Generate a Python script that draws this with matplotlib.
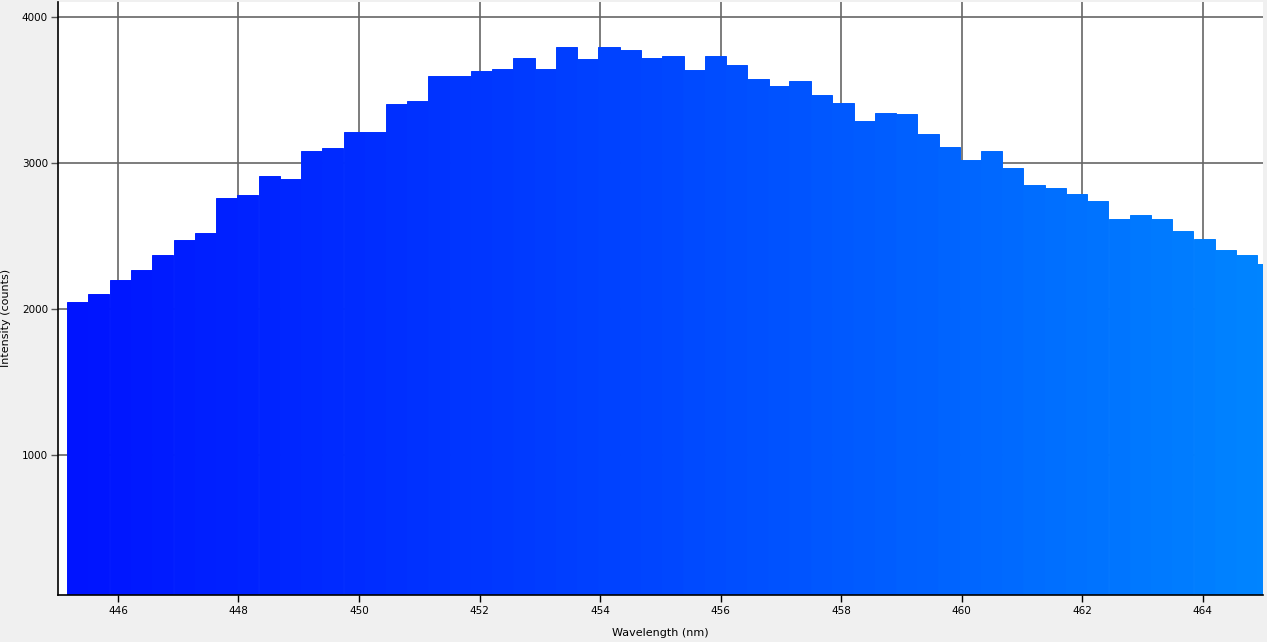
import numpy as np
import matplotlib
matplotlib.use("Agg")
import matplotlib.pyplot as plt
from matplotlib.colors import LinearSegmentedColormap

# bin centres (nm) and counts
wavelength = [445.33, 445.68, 446.04, 446.39, 446.74, 447.10, 447.45, 447.80,
              448.15, 448.51, 448.86, 449.21, 449.56, 449.92, 450.27, 450.62,
              450.98, 451.33, 451.68, 452.03, 452.39, 452.74, 453.09, 453.44,
              453.80, 454.15, 454.50, 454.86, 455.21, 455.56, 455.91, 456.27,
              456.62, 456.97, 457.32, 457.68, 458.03, 458.38, 458.74, 459.09,
              459.44, 459.79, 460.15, 460.50, 460.85, 461.20, 461.56, 461.91,
              462.26, 462.62, 462.97, 463.32, 463.67, 464.03, 464.38, 464.73,
              465.08]
counts = [2050, 2105, 2201, 2269, 2372, 2475, 2523, 2763,
          2783, 2913, 2893, 3084, 3105, 3214, 3214, 3406,
          3427, 3597, 3597, 3632, 3646, 3721, 3646, 3795,
          3714, 3795, 3776, 3721, 3735, 3639, 3735, 3673,
          3577, 3529, 3564, 3468, 3413, 3290, 3345, 3338,
          3200, 3111, 3022, 3084, 2968, 2851, 2831, 2790,
          2742, 2618, 2645, 2618, 2536, 2481, 2406, 2372,
          2310]

x_ticks = [446, 448, 450, 452, 454, 456, 458, 460, 462, 464]
y_ticks = [1000, 2000, 3000, 4000]

bin_width = 0.3527
cmap = LinearSegmentedColormap.from_list("spec", ["#0012ff", "#0046ff", "#0084ff"])

fig = plt.figure(figsize=(12.67, 6.42), dpi=100, facecolor="#f0f0f0")
ax = fig.add_axes([0.0455, 0.0732, 0.9513, 0.9237])
ax.set_facecolor("white")

xlo, xhi = 445.0, 465.0
norm = [(w - xlo) / (xhi - xlo) for w in wavelength]
cols = cmap(np.clip(norm, 0, 1))
ax.bar(wavelength, counts, width=bin_width, color=cols, edgecolor=cols,
       linewidth=0.7, zorder=2)

ax.set_xlim(xlo, xhi)
ax.set_ylim(43, 4105)
ax.set_xticks(x_ticks)
ax.set_yticks(y_ticks)
ax.set_xticklabels([str(t) for t in x_ticks])
ax.set_yticklabels([str(t) for t in y_ticks])
ax.grid(True, color="#666666", linewidth=1.2, zorder=1)
ax.set_axisbelow(True)

for s in ["top", "right"]:
    ax.spines[s].set_visible(False)
for s in ["left", "bottom"]:
    ax.spines[s].set_color("black")
    ax.spines[s].set_linewidth(1.2)
    ax.spines[s].set_zorder(3)

ax.tick_params(axis="x", length=5, width=1, color="black", labelsize=7.5, pad=3)
ax.tick_params(axis="y", length=5, width=1, color="#555555", labelsize=7.5, pad=2)

ax.set_xlabel("Wavelength (nm)", fontsize=8)
ax.set_ylabel("Intensity (counts)", fontsize=8)
ax.xaxis.set_label_coords(0.5, -0.055)
ax.yaxis.set_label_coords(-0.039, 0.467)

fig.savefig("out.png", dpi=100, facecolor=fig.get_facecolor())
